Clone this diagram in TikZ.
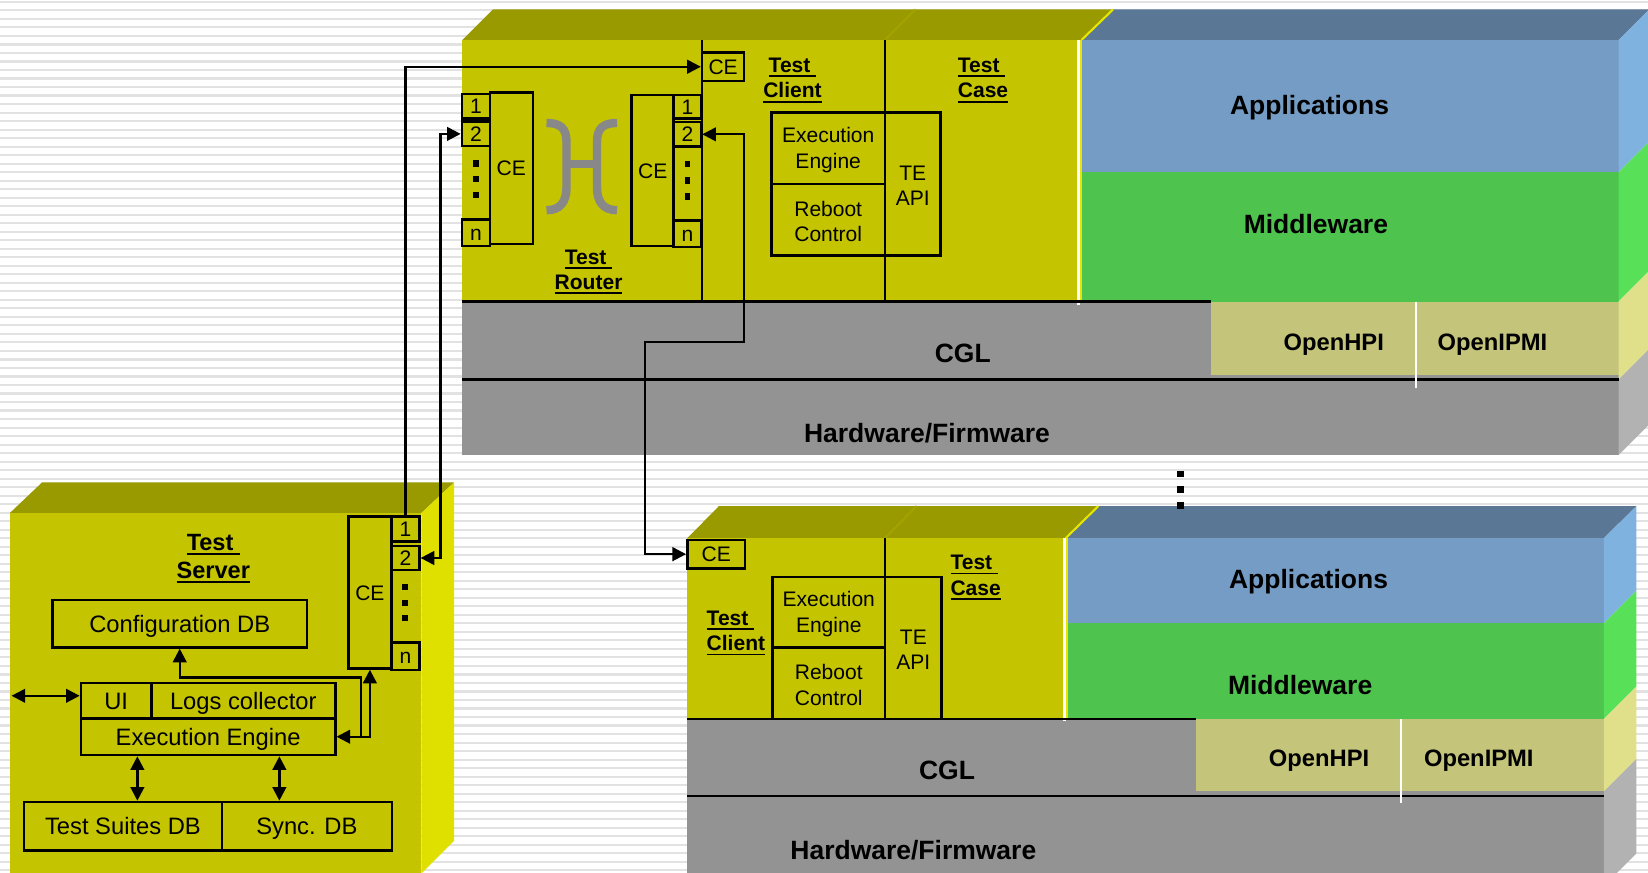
\documentclass[tikz,border=0pt]{standalone}
\usepackage{fontspec}
\setmainfont{Liberation Sans}
\usetikzlibrary{arrows.meta}
\definecolor{cYel}{HTML}{C4C400}
\definecolor{cTop}{HTML}{999900}
\definecolor{cTopL}{HTML}{A2A200}
\definecolor{cBright}{HTML}{E0E000}
\definecolor{cHi}{HTML}{E6E600}
\definecolor{cBlueTop}{HTML}{5A7896}
\definecolor{cBlue}{HTML}{759CC4}
\definecolor{cBlueS}{HTML}{80B2E0}
\definecolor{cGreen}{HTML}{4EC44E}
\definecolor{cGreenS}{HTML}{58E058}
\definecolor{cKhaki}{HTML}{C4C47A}
\definecolor{cKhakiS}{HTML}{E0E08A}
\definecolor{cGray}{HTML}{939393}
\definecolor{cGrayS}{HTML}{B2B2B2}
\definecolor{cBrk}{HTML}{888888}
\definecolor{cStripe}{HTML}{E2E2E2}
\newcommand\uln[1]{\leavevmode\setbox0\hbox{#1}\rlap{\rule[-2.2pt]{\wd0}{0.9pt}}\box0}
% frame node (named) + text node on its centre
\newcommand\mkbox[7][]{\node[frame,minimum width={(#5-#3)*0.5pt},minimum height={(#6-#4)*0.5pt}] (#2) at ({(#3+#5)/2},{(#4+#6)/2}) {};
  \node[btxt,#1] (#2-t) at (#2.center) {#7};}
\begin{document}
\begin{tikzpicture}[x=0.5pt,y=-0.5pt,
  >={Triangle[length=6.5pt,width=6.5pt]},
  frame/.style={draw,line width=1.2pt,inner sep=0pt},
  btxt/.style={inner sep=0pt,align=center,font=\fontsize{10}{12}\selectfont,text height=7.2pt,text depth=0pt},
  multi/.style={text height=,text depth=,yshift=-0.9pt},
  sbox/.style={font=\fontsize{11.3}{13.5}\selectfont,text height=8.1pt,text depth=0pt},
  hd/.style={inner sep=0pt,align=center,font=\bfseries\fontsize{10}{12}\selectfont},
  shd/.style={inner sep=0pt,align=center,font=\bfseries\fontsize{11.2}{13.5}\selectfont},
  big/.style={inner sep=0pt,font=\bfseries\fontsize{12.6}{15}\selectfont,text height=9.1pt,text depth=0pt},
  mid/.style={inner sep=0pt,font=\bfseries\fontsize{11.3}{13.5}\selectfont,text height=8.1pt,text depth=0pt},
  conn/.style={line width=1.1pt},
  rule/.style={line width=1.2pt},
  brk/.style={cBrk,line width=4pt}
]
\useasboundingbox (0,0) rectangle (1568,830);
\clip (0,0) rectangle (1568,830);
\fill[white] (0,0) rectangle (1568,830);
\foreach \i in {0,...,102} \fill[cStripe] (0,{0.8+\i*8.1}) rectangle (1568,{2.8+\i*8.1});

% ================= upper system =================
\fill[cTop] (440,38) -- (469,9) -- (1059,9) -- (1030,38) -- cycle;
\draw[cTopL,line width=1pt] (842,38) -- (871,9);
\fill[cBlueTop] (1030,38) -- (1059,9) -- (1569,9) -- (1540,38) -- cycle;
\draw[cHi,line width=1pt] (1029,38) -- (1059,9);
\fill[cYel] (440,38) rectangle (1027,287);
\fill[cBlue] (1027,38) rectangle (1540,164);
\fill[cGreen] (1027,164) rectangle (1540,287);
\fill[cGray] (440,287) rectangle (1540,433);
\fill[cKhaki] (1152,287) rectangle (1540,357);
\fill[cBlueS] (1540,38) -- (1569,9) -- (1569,135) -- (1540,164) -- cycle;
\fill[cGreenS] (1540,164) -- (1569,135) -- (1569,258) -- (1540,287) -- cycle;
\fill[cKhakiS] (1540,287) -- (1569,258) -- (1569,332) -- (1540,361) -- cycle;
\fill[cGrayS] (1540,361) -- (1569,332) -- (1569,404) -- (1540,433) -- cycle;
\draw[white,line width=1.4pt] (1026,38) -- (1026,290);
\draw[cHi,line width=0.8pt] (1028.5,38) -- (1028.5,287);
\draw[rule] (440,287) -- (1152,287);
\draw[rule] (440,361) -- (1540,361);
\draw[white,line width=1pt] (1347,287) -- (1347,369);
\draw[rule] (668,38) -- (668,287);
\draw[rule] (842,38) -- (842,287);

\node[big] (cgl1) at (916,336) {CGL};
\node[big] (hw1) at (882,412) {Hardware/Firmware};
\node[big] (app1) at (1246,100) {Applications};
\node[big] (mw1) at (1252,213) {Middleware};
\node[mid] (hpi1) at (1269,325) {OpenHPI};
\node[mid] (ipmi1) at (1420,325) {OpenIPMI};

% router
\mkbox{rl1}{439.5}{89.4}{466}{112.6}{1}
\mkbox{rl2}{439.5}{115.8}{466}{139}{2}
\mkbox{rln}{439.5}{208.6}{466}{234}{n}
\mkbox{rlce}{466}{88}{507}{232}{CE}
\mkbox{rr1}{641}{90.4}{667}{112.6}{1}
\mkbox{rr2}{641}{116}{667}{139.6}{2}
\mkbox{rrn}{641}{210}{667}{235}{n}
\mkbox{rrce}{601}{90.4}{641}{234}{CE}
\foreach \y in {155.5,170.5,185.6} \fill (450,{\y-3}) rectangle (455.5,{\y+3});
\foreach \y in {156,171.6,187} \fill (651.3,{\y-3}) rectangle (656.8,{\y+3});
\draw[brk] (520,117) .. controls (533,117) and (539,122) .. (539,135) -- (539,178) .. controls (539,192) and (533,200) .. (520,200);
\draw[brk] (587,117) .. controls (574,117) and (568,122) .. (568,135) -- (568,178) .. controls (568,192) and (574,200) .. (587,200);
\draw[brk] (539,156) -- (568,156);
\node[hd] (trlab) at (560,258.5) {\uln{Test\ }\\\uln{Router}};

% test client (upper)
\mkbox{tcce}{668}{50}{708}{77}{CE}
\node[hd] (tclab) at (754,76.5) {\uln{Test\ }\\\uln{Client}};
\node[hd,align=left,anchor=west] (tcase) at (911,76.5) {\uln{Test\ }\\\uln{Case}};
\mkbox[multi]{ee1}{734}{107}{842}{175}{Execution\\Engine}
\mkbox[multi]{rc1}{734}{175}{842}{243}{Reboot\\Control}
\mkbox[multi]{api1}{842}{107}{895}{243}{TE\\API}

% ================= lower system =================
\fill[cTop] (654,512) -- (684,481.5) -- (1045,481.5) -- (1015,512) -- cycle;
\draw[cTopL,line width=1pt] (842,512) -- (872,481.5);
\fill[cBlueTop] (1015,512) -- (1045,481.5) -- (1557,481.5) -- (1526,512) -- cycle;
\draw[cHi,line width=1pt] (1014,512) -- (1045,481.5);
\fill[cYel] (654,512) rectangle (1014,684);
\fill[cBlue] (1014,512) rectangle (1526,593);
\fill[cGreen] (1014,593) rectangle (1526,684);
\fill[cGray] (654,684) rectangle (1526,840);
\fill[cKhaki] (1138,684) rectangle (1526,753);
\fill[cBlueS] (1526,512) -- (1557,481.5) -- (1557,562) -- (1526,593) -- cycle;
\fill[cGreenS] (1526,593) -- (1557,562) -- (1557,653) -- (1526,684) -- cycle;
\fill[cKhakiS] (1526,684) -- (1557,653) -- (1557,722) -- (1526,753) -- cycle;
\fill[cGrayS] (1526,753) -- (1557,722) -- (1557,812) -- (1526,843) -- cycle;
\draw[white,line width=1.4pt] (1013,512) -- (1013,686);
\draw[cHi,line width=0.8pt] (1015.5,512) -- (1015.5,684);
\draw[rule] (654,684) -- (1138,684);
\draw[rule] (654,757.4) -- (1526,757.4);
\draw[white,line width=1pt] (1332.6,684) -- (1332.6,764);
\draw[rule] (842,512) -- (842,684);

\node[big] (cgl2) at (901,733) {CGL};
\node[big] (hw2) at (869,809) {Hardware/Firmware};
\node[big] (app2) at (1245,551) {Applications};
\node[big] (mw2) at (1237,652) {Middleware};
\node[mid] (hpi2) at (1255,721.5) {OpenHPI};
\node[mid] (ipmi2) at (1407,721.5) {OpenIPMI};

\mkbox{lce}{654}{513.8}{709}{540.7}{CE}
\node[hd,align=left,anchor=west] (lclab) at (672,602.5) {\uln{Test\ }\\\uln{Client}};
\node[hd,align=left,anchor=west] (lcase) at (904,549.5) {\uln{Test\ }\\\uln{Case}};
\mkbox[multi]{ee2}{735}{549}{842}{616}{Execution\\Engine}
\mkbox[multi]{rc2}{735}{616}{842}{684}{Reboot\\Control}
\mkbox[multi]{api2}{842}{549}{896}{684}{TE\\API}

\foreach \y in {451,466,481} \fill (1120,{\y-3.2}) rectangle (1126.5,{\y+3.2});

% ================= test server =================
\fill[cTop] (9.5,488) -- (40,459) -- (432,459) -- (401,488) -- cycle;
\fill[cYel] (9.5,488) rectangle (401,840);
\fill[cBright] (401,488) -- (432,459) -- (432,800) -- (401,831) -- cycle;

\node[shd] (tslab) at (203,531.5) {\uln{Test\ }\\\uln{Server}};
\mkbox[sbox]{cfg}{50}{571}{292}{616}{Configuration DB}
\mkbox[sbox]{ui}{77}{650}{144}{683.5}{UI}
\mkbox[sbox]{logs}{144}{650}{319}{683.5}{Logs collector}
\mkbox[sbox]{see}{77}{683.5}{319}{718.4}{Execution Engine}
\mkbox[sbox]{tsdb}{23}{763}{211}{809}{Test Suites DB}
\mkbox[sbox]{sync}{211}{763}{373}{809}{Sync. DB}
\mkbox{sce}{331.4}{491.6}{372.5}{636}{CE}
\mkbox{sp1}{372.5}{491.6}{399}{515.4}{1}
\mkbox{sp2}{372.5}{519.5}{399}{542.3}{2}
\mkbox{spn}{372.5}{611.5}{399}{637.5}{n}
\foreach \y in {558.2,573.4,588.3} \fill (382.6,{\y-3}) rectangle (388.2,{\y+3});

% ================= connectors =================
\draw[conn,->] (sp1.north) |- (tcce.west);
\coordinate (a2) at (419,0);
\draw[conn,<->] (rl2.west) -- (rl2.west -| a2) -- (sp2.east -| a2) -- (sp2.east);
\coordinate (a3) at (708,325.4);
\coordinate (a4) at (613.5,325.4);
\draw[conn,<->] (rr2.east) -| (a3) -- (a4) |- (lce.west);

\coordinate (ext) at (11,662);
\draw[conn,<->] (ext) -- (ext -| ui.west);
\draw[conn,<->] (sce.south) |- (see.east);
\coordinate (j1) at (343.2,701);
\coordinate (j2) at (343.2,644.5);
\draw[conn,->] (j1) -- (j2) -| (cfg.south);
\coordinate (v1) at (130.7,0);
\coordinate (v2) at (265.8,0);
\draw[conn,<->] (see.south -| v1) -- (tsdb.north -| v1);
\draw[conn,<->] (see.south -| v2) -- (sync.north -| v2);
\end{tikzpicture}
\end{document}
